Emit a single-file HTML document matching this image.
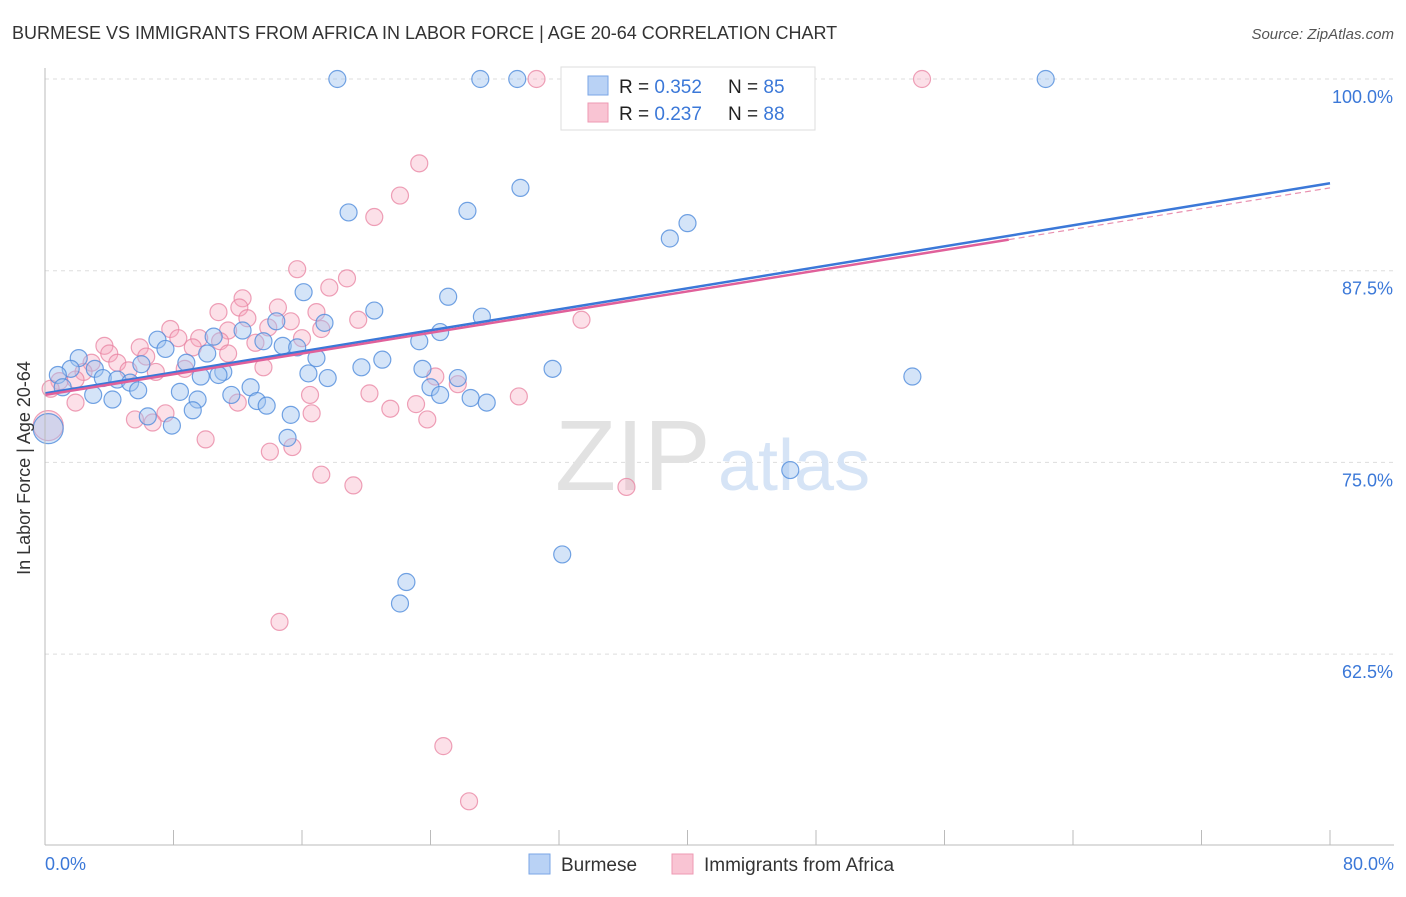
<!DOCTYPE html>
<html><head><meta charset="utf-8"><style>
body{margin:0;background:#fff;font-family:"Liberation Sans",sans-serif;}
svg text{font-family:"Liberation Sans",sans-serif;}
</style></head><body>
<svg id="c" width="1406" height="892">
<text x="12" y="39" font-size="18" fill="#333">BURMESE VS IMMIGRANTS FROM AFRICA IN LABOR FORCE | AGE 20-64 CORRELATION CHART</text>
<text x="1394" y="39" font-size="15" fill="#555" font-style="italic" text-anchor="end">Source: ZipAtlas.com</text>
<g id="grid"></g>
<g id="wm">
<text x="555" y="490" font-size="100" fill="#e2e2e2" font-family="Liberation Serif">ZIP</text>
<text x="718" y="490" font-size="72" fill="#d6e4f6">atlas</text>
</g>
<g id="pts"></g>
<g id="lines"></g>
<line x1="45" y1="68" x2="45" y2="845" stroke="#bbb"/>
<line x1="45" y1="845" x2="1394" y2="845" stroke="#bbb"/>
<g id="ticks"></g>
<text x="20" y="458" font-size="18" fill="#333" text-anchor="middle" transform="rotate(-90 30 458)">In Labor Force | Age 20-64</text>
<text x="45" y="870" font-size="18" fill="#3b78d8">0.0%</text>
<text x="1394" y="870" font-size="18" fill="#3b78d8" text-anchor="end">80.0%</text>
<g>
<rect x="561" y="67" width="254" height="63" fill="#fff" stroke="#ddd"/>
<rect x="588" y="76" width="20" height="19" fill="#b9d2f5" stroke="#7aa6e6"/>
<rect x="588" y="103" width="20" height="19" fill="#f9c4d3" stroke="#ee9ab3"/>
<text x="619" y="93" font-size="19" fill="#222">R = <tspan fill="#3b78d8">0.352</tspan></text>
<text x="728" y="93" font-size="19" fill="#222">N = <tspan fill="#3b78d8">85</tspan></text>
<text x="619" y="120" font-size="19" fill="#222">R = <tspan fill="#3b78d8">0.237</tspan></text>
<text x="728" y="120" font-size="19" fill="#222">N = <tspan fill="#3b78d8">88</tspan></text>
</g>
<g>
<rect x="529" y="854" width="21" height="20" fill="#b9d2f5" stroke="#7aa6e6"/>
<text x="561" y="871" font-size="19" fill="#333">Burmese</text>
<rect x="672" y="854" width="21" height="20" fill="#f9c4d3" stroke="#ee9ab3"/>
<text x="704" y="871" font-size="19" fill="#333">Immigrants from Africa</text>
</g>
</svg>
<script>
const yTicks=[100,87.5,75,62.5];
const yTickLabels=["100.0%","87.5%","75.0%","62.5%"];
const xTicks=[0,8,16,24,32,40,48,56,64,72,80];
const blueX=[18.2,27.1,29.4,62.3,37.6,29.6,18.9,26.3,40.0,38.9,16.1,25.1,20.5,27.2,17.4,14.4,24.6,23.3,12.3,10.5,7.0,13.6,14.8,15.7,7.5,10.1,2.1,16.9,21.0,8.8,6.0,1.6,3.1,0.8,16.4,17.6,11.1,19.7,23.5,31.6,54.0,3.6,4.5,5.3,10.8,9.7,25.7,1.1,24.0,12.8,8.4,3.0,5.8,4.2,11.6,24.6,26.5,27.5,9.5,13.2,13.8,9.2,15.3,6.4,7.9,15.1,0.2,46.4,32.2,22.5,22.1];
const blueY=[100,100,100,100,97.5,92.9,91.3,91.4,90.6,89.6,86.1,85.8,84.9,84.5,84.1,84.2,83.5,82.9,83.6,83.2,83.0,82.9,82.6,82.5,82.4,82.1,81.8,81.8,81.7,81.5,81.4,81.1,81.1,80.7,80.8,80.5,80.9,81.2,81.1,81.1,80.6,80.5,80.4,80.2,80.7,80.6,80.5,79.9,79.9,79.9,79.6,79.4,79.7,79.1,79.4,79.4,79.2,78.9,79.1,79.0,78.7,78.4,78.1,78.0,77.4,76.6,77.2,74.5,69.0,67.2,65.8];
const pinkX=[30.6,33.0,54.6,23.3,22.1,20.5,15.7,18.8,17.7,12.3,12.1,14.5,10.8,16.9,19.5,33.4,15.3,12.6,17.2,7.8,11.4,13.9,9.6,8.3,16.0,10.9,13.1,3.7,5.9,9.2,4.0,6.3,11.4,2.9,4.5,8.7,13.6,5.2,6.9,2.4,0.9,1.9,24.3,25.7,0.35,20.2,16.5,29.5,1.9,12.0,21.5,23.1,16.6,7.5,5.6,6.7,23.8,10.0,15.4,14.0,17.2,19.2,36.2,14.6,24.8,26.4,0.2];
const pinkY=[100,100,100,94.5,92.4,91.0,87.6,87.0,86.4,85.7,85.1,85.1,84.8,84.8,84.3,84.3,84.2,84.4,83.7,83.7,83.6,83.8,83.1,83.1,83.1,82.9,82.8,82.6,82.5,82.5,82.1,81.9,82.1,81.5,81.5,81.1,81.2,81.0,80.9,80.9,80.3,80.4,80.6,80.1,79.8,79.5,79.4,79.3,78.9,78.9,78.5,78.8,78.2,78.2,77.8,77.6,77.8,76.5,76.0,75.7,74.2,73.5,73.4,64.6,56.5,52.9,77.4];
const blueTrend=[79.5,93.2];
const pinkTrend=[79.4,92.9];
const pinkSolidEnd=60;
const NS="http://www.w3.org/2000/svg";
const X=v=>45+v/80*1285;
const Y=v=>79+(100-v)/12.5*191.7;
function mk(t,a,p){const e=document.createElementNS(NS,t);for(const k in a)e.setAttribute(k,a[k]);p.appendChild(e);return e;}
const grid=document.getElementById('grid');
yTicks.forEach((t,i)=>{
 const l=mk('line',{x1:45,x2:1394,y1:Y(t),y2:Y(t),stroke:'#ddd','stroke-dasharray':'4,4'},grid);
 
 
 const tx=mk('text',{x:1393,y:Y(t)+24,'font-size':18,fill:'#3b78d8','text-anchor':'end'},grid);
 tx.textContent=yTickLabels[i];
 
 
});
const ticks=document.getElementById('ticks');
xTicks.forEach(t=>{
 const l=mk('line',{x1:X(t),x2:X(t),y1:830,y2:845,stroke:'#bbb'},ticks);
 
 
});
const pts=document.getElementById('pts');
function dots(xs,ys,fill,stroke,name){
 xs.forEach((x,i)=>{
  const big=x<0.25;
  const c=mk('circle',{cx:X(x),cy:Y(ys[i]),r:big?15:8.5,fill:fill,stroke:stroke,'stroke-width':1.2},pts);
  
  
 });
}
dots(pinkX,pinkY,'rgba(245,165,188,0.35)','rgba(232,130,160,0.75)','point-africa');
dots(blueX,blueY,'rgba(160,195,240,0.45)','rgba(80,140,220,0.8)','point-burmese');
const lines=document.getElementById('lines');
const lb=mk('line',{x1:X(0),y1:Y(blueTrend[0]),x2:X(80),y2:Y(blueTrend[1]),stroke:'#3b78d8','stroke-width':2.5},lines);


const pm=pinkTrend[0]+(pinkTrend[1]-pinkTrend[0])*pinkSolidEnd/80;
const lp=mk('line',{x1:X(0),y1:Y(pinkTrend[0]),x2:X(pinkSolidEnd),y2:Y(pm),stroke:'#e0609a','stroke-width':2.5},lines);


const ld=mk('line',{x1:X(pinkSolidEnd),y1:Y(pm),x2:X(80),y2:Y(pinkTrend[1]),stroke:'#e890b0','stroke-width':1.2,'stroke-dasharray':'6,4'},lines);


</script>
</body></html>
